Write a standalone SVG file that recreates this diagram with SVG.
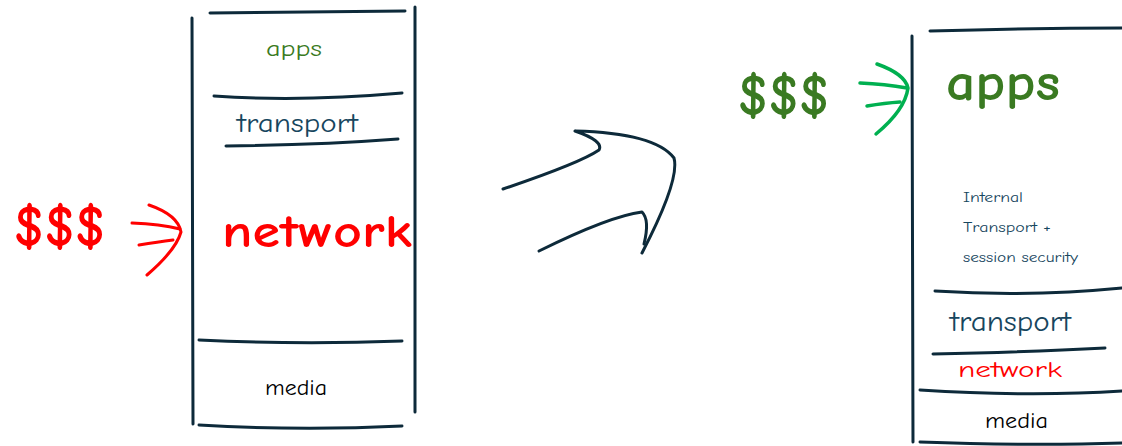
<svg xmlns="http://www.w3.org/2000/svg" width="1122" height="446" viewBox="0 0 1122 446">
<style>
.ln{fill:none;stroke:#0d2a3a;stroke-width:3;stroke-linecap:round;stroke-linejoin:round}
.t{font-family:"Comic Neue","Liberation Sans",sans-serif}
.g{fill:#3a7a22}
.b{fill:#17465e}
.r{fill:#ff0000}
.k{fill:#000}
.ra{fill:none;stroke:#ff0000;stroke-width:3;stroke-linecap:round}
.ga{fill:none;stroke:#00b050;stroke-width:3.5;stroke-linecap:round}
</style>
<rect width="1122" height="446" fill="#fff"/>
<g id="left-stack">
<path class="ln" d="M192,18 L193,424"/>
<path class="ln" d="M415,7 L415,412"/>
<path class="ln" d="M210,13 Q300,12 405,11"/>
<path class="ln" d="M214,96 Q300,102 402,93"/>
<path class="ln" d="M226,146 Q320,145 398,139"/>
<path class="ln" d="M199,340 Q300,345 402,341"/>
<path class="ln" d="M199,425 Q300,431 402,426"/>
<text class="t g" x="266" y="56" font-size="22" textLength="56" lengthAdjust="spacingAndGlyphs">apps</text>
<text class="t b" x="237" y="132" font-size="27" textLength="121" lengthAdjust="spacingAndGlyphs">transport</text>
<text class="t r" x="222" y="247" font-size="46" font-weight="bold" textLength="190" lengthAdjust="spacingAndGlyphs">network</text>
<text class="t k" x="265" y="395" font-size="23" textLength="62" lengthAdjust="spacingAndGlyphs">media</text>
</g>
<g id="left-money">
<text class="t r" x="14" y="245" font-size="58" font-weight="bold" textLength="92" lengthAdjust="spacingAndGlyphs">$$$</text>
</g>
<g id="right-stack">
<path class="ln" d="M912,36 L913,442"/>
<path class="ln" d="M930,31 Q1030,28 1122,28"/>
<path class="ln" d="M935,291 Q1030,297 1122,288"/>
<path class="ln" d="M933,354 Q1030,352 1105,348"/>
<path class="ln" d="M920,390 Q1030,397 1122,391"/>
<path class="ln" d="M920,442 Q1030,446 1122,443"/>
<text class="t g" x="946" y="100" font-size="52" font-weight="bold" textLength="114" lengthAdjust="spacingAndGlyphs">apps</text>
<text class="t b" x="963" y="202" font-size="13" textLength="60" lengthAdjust="spacingAndGlyphs">Internal</text>
<text class="t b" x="963" y="232" font-size="13" textLength="88" lengthAdjust="spacingAndGlyphs">Transport +</text>
<text class="t b" x="963" y="262" font-size="13" textLength="115" lengthAdjust="spacingAndGlyphs">session security</text>
<text class="t b" x="950" y="331" font-size="29" textLength="121" lengthAdjust="spacingAndGlyphs">transport</text>
<text class="t r" x="958" y="377" font-size="22" textLength="104" lengthAdjust="spacingAndGlyphs">network</text>
<text class="t k" x="985" y="428" font-size="22" textLength="63" lengthAdjust="spacingAndGlyphs">media</text>
</g>
<g id="right-money">
<text class="t g" x="738" y="114" font-size="58" font-weight="bold" textLength="92" lengthAdjust="spacingAndGlyphs">$$$</text>
</g>
<g id="connectors">
<path class="ra" d="M132,223 Q160,224 180,229"/>
<path class="ra" d="M139,245 Q158,242 173,240"/>
<path class="ra" d="M149,205 Q178,215 181,232 Q176,250 147,275"/>
<path class="ga" d="M860,83 Q885,84 907,88"/>
<path class="ga" d="M867,106 Q885,103 900,102"/>
<path class="ga" d="M877,64 Q905,74 908,88 Q905,110 876,134"/>
<path class="ln" d="M503,189 Q580,163 599,150 Q604,141 575,131 Q655,133 674,158 Q680,180 642,253"/>
<path class="ln" d="M539,251 Q610,216 642,212 Q650,220 644,244"/>
</g>
</svg>
